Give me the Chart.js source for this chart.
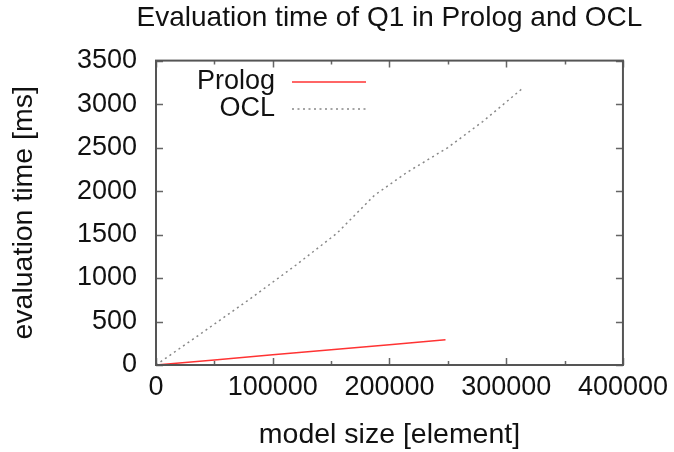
<!DOCTYPE html>
<html>
<head>
<meta charset="utf-8">
<script src="https://cdn.jsdelivr.net/npm/chart.js@4.4.1/dist/chart.umd.min.js"></script>
<style>
  html, body { margin: 0; padding: 0; background: #fff; overflow: hidden; }
  #wrap { width: 674px; height: 452px; }
</style>
</head>
<body>
<div id="wrap"><canvas id="chart" width="674" height="452"></canvas></div>
<script>
// values
const prologSize = [0, 50000, 100000, 150000, 200000, 248000];
const prologTime = [0, 58, 117, 175, 233, 290];
const oclSize = [0, 40000, 80000, 120000, 155000, 187000, 215000, 250000, 280000, 313000];
const oclTime = [0, 375, 755, 1150, 1515, 1950, 2215, 2500, 2800, 3170];

const xMin = 0, xMax = 400000, xMajor = 100000, xMinor = 50000;
const yMin = 0, yMax = 3500, yStep = 500;

const FONT = "'Liberation Sans', Arial, sans-serif";
const FS = 27;
const FS_TITLE = 28.5;
const TXT = "#111";

const toPts = (xs, ys) => xs.map((x, i) => ({ x: x, y: ys[i] }));

// center the title over the plot box (gnuplot style), keeping enough room for it
const titleShift = {
  id: "titleShift",
  afterLayout(chart) {
    const t = chart.titleBlock, a = chart.chartArea;
    if (!t) return;
    const c = (a.left + a.right) / 2;
    t.left = c - 280;
    t.right = c + 280;
  }
};

// gnuplot-style frame with inward ticks on all four sides
const framePlugin = {
  id: "frame",
  afterDatasetsDraw(chart) {
    const { ctx, chartArea: a, scales } = chart;
    const xs = scales.x, ys = scales.y;
    ctx.save();
    ctx.strokeStyle = "#666";
    ctx.lineWidth = 1.5;
    ctx.beginPath();
    for (let v = xMin; v <= xMax; v += xMinor) {
      const px = Math.round(xs.getPixelForValue(v)) + 0.5;
      const len = v % xMajor === 0 ? 7 : 4;
      ctx.moveTo(px, a.bottom); ctx.lineTo(px, a.bottom - len);
      ctx.moveTo(px, a.top); ctx.lineTo(px, a.top + len);
    }
    for (let v = yMin; v <= yMax; v += yStep) {
      const py = Math.round(ys.getPixelForValue(v)) + 0.5;
      ctx.moveTo(a.left, py); ctx.lineTo(a.left + 7, py);
      ctx.moveTo(a.right, py); ctx.lineTo(a.right - 7, py);
    }
    ctx.stroke();
    ctx.lineWidth = 2;
    ctx.strokeStyle = "#555";
    ctx.strokeRect(a.left, a.top, a.right - a.left, a.bottom - a.top);
    ctx.restore();
  }
};

// legend inside the plot: right-aligned text, sample line to the right
const keyPlugin = {
  id: "key",
  afterDatasetsDraw(chart) {
    const { ctx, chartArea: a } = chart;
    ctx.save();
    ctx.font = FS + "px " + FONT;
    ctx.textAlign = "right";
    ctx.textBaseline = "middle";
    chart.data.datasets.forEach((ds, i) => {
      const y = a.top + 21 + i * 27;
      ctx.fillStyle = TXT;
      ctx.fillText(ds.label, a.left + 119, y);
      ctx.strokeStyle = ds.borderColor;
      ctx.lineWidth = ds.borderWidth;
      ctx.setLineDash(ds.borderDash || []);
      ctx.beginPath();
      ctx.moveTo(a.left + 136, y + 0.5);
      ctx.lineTo(a.left + 210, y + 0.5);
      ctx.stroke();
    });
    ctx.restore();
  }
};

new Chart(document.getElementById("chart"), {
  type: "line",
  data: {
    datasets: [
      { label: "Prolog", data: toPts(prologSize, prologTime),
        borderColor: "#f33", borderWidth: 1.5, pointRadius: 0, tension: 0, fill: false },
      { label: "OCL", data: toPts(oclSize, oclTime),
        borderColor: "#888", borderWidth: 1.5, borderDash: [2, 3.5], pointRadius: 0, tension: 0, fill: false }
    ]
  },
  options: {
    responsive: false,
    animation: false,
    devicePixelRatio: 1,
    layout: { padding: { left: 0, right: 50, top: 0, bottom: 0 } },
    plugins: {
      legend: { display: false },
      tooltip: { enabled: false },
      title: {
        display: true,
        text: "Evaluation time of Q1 in Prolog and OCL",
        color: TXT,
        font: { family: FONT, size: 28, weight: "normal" },
        padding: { top: 1, bottom: 26 }
      }
    },
    scales: {
      x: {
        type: "linear", min: xMin, max: xMax,
        afterFit: s => { s.height = 87; },
        grid: { display: false, drawTicks: false },
        border: { display: false },
        ticks: { stepSize: xMajor, color: TXT, padding: 6, maxRotation: 0,
          callback: v => String(v),
          font: { family: FONT, size: FS } },
        title: { display: true, text: "model size [element]", color: TXT,
          font: { family: FONT, size: FS_TITLE }, padding: { top: 0, bottom: 0 } }
      },
      y: {
        type: "linear", min: yMin, max: yMax,
        afterFit: s => { s.width = 156; },
        grid: { display: false, drawTicks: false },
        border: { display: false },
        ticks: { stepSize: yStep, color: TXT, padding: 19,
          callback: v => String(v),
          font: { family: FONT, size: FS } },
        title: { display: true, text: "evaluation time [ms]", color: TXT,
          font: { family: FONT, size: FS_TITLE }, padding: { top: 7, bottom: 0 } }
      }
    }
  },
  plugins: [titleShift, framePlugin, keyPlugin]
});
</script>
</body>
</html>
